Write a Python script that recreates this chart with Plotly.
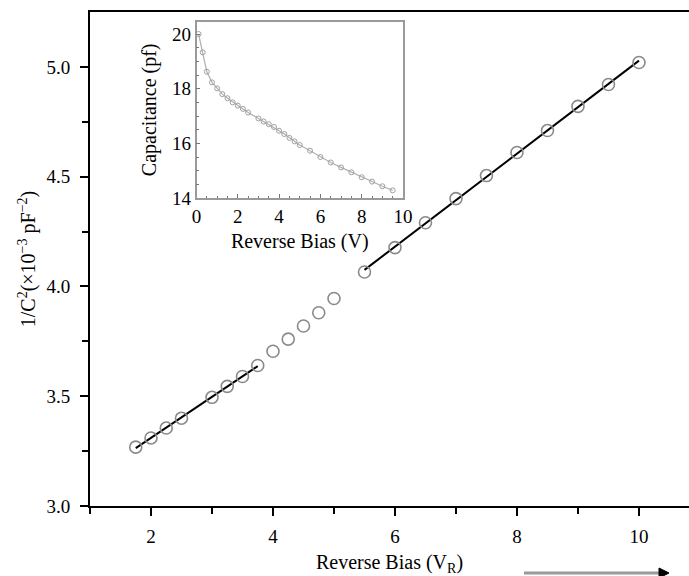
import numpy as np
import plotly.graph_objects as go

# Main plot data: 1/C^2 (x10^-3 pF^-2) vs reverse bias
x_main = [1.75, 2, 2.25, 2.5, 3, 3.25, 3.5, 3.75, 4, 4.25, 4.5, 4.75, 5,
          5.5, 6, 6.5, 7, 7.5, 8, 8.5, 9, 9.5, 10]
y_main = [3.268, 3.31, 3.355, 3.40, 3.495, 3.545, 3.59, 3.64, 3.705, 3.76, 3.82, 3.88, 3.945,
          4.066, 4.177, 4.29, 4.40, 4.505, 4.61, 4.71, 4.82, 4.92, 5.02]

# Inset data: capacitance (pf) vs reverse bias (V)
x_in = [0.1, 0.3, 0.5, 0.75, 1, 1.25, 1.5, 1.75, 2, 2.25, 2.5, 3, 3.25, 3.5, 3.75, 4,
        4.25, 4.5, 4.75, 5, 5.5, 6, 6.5, 7, 7.5, 8, 8.5, 9, 9.5]
y_in = [20.0, 19.33, 18.62, 18.23, 18.01, 17.8, 17.65, 17.5, 17.38, 17.26, 17.13, 16.91,
        16.8, 16.7, 16.6, 16.46, 16.34, 16.2, 16.07, 15.94, 15.73, 15.5, 15.3, 15.12,
        14.94, 14.76, 14.6, 14.43, 14.28]

# Tick labels
main_xticks = [2, 4, 6, 8, 10]
main_yticks = [3.0, 3.5, 4.0, 4.5, 5.0]
inset_xticks = [0, 2, 4, 6, 8, 10]
inset_yticks = [14, 16, 18, 20]

# Linear fit segments (ranges of bias)
fit_ranges = [(1.75, 3.75), (5.5, 10)]

FONT = "Liberation Serif"
fig = go.Figure()

xm = np.array(x_main)
ym = np.array(y_main)
for lo, hi in fit_ranges:
    sel = (xm >= lo) & (xm <= hi)
    k, b = np.polyfit(xm[sel], ym[sel], 1)
    xs = np.array([lo, hi])
    fig.add_trace(go.Scatter(x=xs, y=k * xs + b, mode="lines",
                             line=dict(color="black", width=2), showlegend=False,
                             xaxis="x", yaxis="y"))

fig.add_trace(go.Scatter(x=x_main, y=y_main, mode="markers",
                         marker=dict(symbol="circle-open", size=12, color="#8a8a8a",
                                     line=dict(width=1.6, color="#8a8a8a")),
                         showlegend=False, xaxis="x", yaxis="y"))

fig.add_trace(go.Scatter(x=x_in, y=y_in, mode="lines+markers",
                         line=dict(color="#b0b0b0", width=1.2),
                         marker=dict(symbol="circle-open", size=5, color="#a0a0a0",
                                     line=dict(width=1, color="#a0a0a0")),
                         showlegend=False, xaxis="x2", yaxis="y2"))

L, T, B = 90, 12, 70
W, H = 689, 576
pw, ph = W - L, H - T - B

def px(xp):
    return (xp - L) / pw

def py(yp):
    return (H - B - yp) / ph

fig.update_layout(
    width=W, height=H,
    margin=dict(l=L, r=0, t=T, b=B, autoexpand=False),
    paper_bgcolor="white", plot_bgcolor="white",
    font=dict(family=FONT, size=19, color="black"),
    xaxis=dict(domain=[0, 1], range=[1, 10.82], tickvals=main_xticks,
               ticks="outside", ticklen=8, tickwidth=2, tickcolor="black",
               ticklabelstandoff=4,
               minor=dict(tickvals=[1, 3, 5, 7, 9], ticks="outside", ticklen=6,
                          tickwidth=2, tickcolor="black"),
               showline=True, linecolor="black", linewidth=2, mirror=True,
               showgrid=False, zeroline=False, automargin=False,
               title=dict(text="Reverse Bias (V<sub>R</sub>)", font=dict(size=20), standoff=10)),
    yaxis=dict(domain=[0, 1], range=[3.0, 5.25], tickvals=main_yticks,
               tickformat=".1f",
               ticks="outside", ticklen=8, tickwidth=2, tickcolor="black",
               ticklabelstandoff=6,
               minor=dict(tickvals=[3.25, 3.75, 4.25, 4.75], ticks="outside", ticklen=6,
                          tickwidth=2, tickcolor="black"),
               showline=True, linecolor="black", linewidth=2,
               showgrid=False, zeroline=False, automargin=False,
               title=dict(text="1/C<sup>2</sup>(×10<sup>−3</sup> pF<sup>−2</sup>)",
                          font=dict(size=20), standoff=5)),
    xaxis2=dict(domain=[px(196.5), px(403)], anchor="y2", range=[0, 10],
                tickvals=inset_xticks,
                ticks="inside", ticklen=4, tickwidth=1.2, tickcolor="#777777",
                minor=dict(dtick=0.5, ticks="inside", ticklen=2.5, tickwidth=1,
                           tickcolor="#777777"),
                showline=True, linecolor="#9a9a9a", linewidth=1.5, mirror=True,
                showgrid=False, zeroline=False, automargin=False,
                title=dict(text="Reverse Bias (V)", font=dict(size=20), standoff=8)),
    yaxis2=dict(domain=[py(198), py(21.7)], anchor="x2", range=[14, 20.45],
                tickvals=inset_yticks,
                ticks="inside", ticklen=4, tickwidth=1.2, tickcolor="#777777",
                minor=dict(dtick=0.5, ticks="inside", ticklen=2.5, tickwidth=1,
                           tickcolor="#777777"),
                showline=True, linecolor="#9a9a9a", linewidth=1.5, mirror=True,
                showgrid=False, zeroline=False, automargin=False,
                title=dict(text="Capacitance (pf)", font=dict(size=20), standoff=10)),
    shapes=[
        dict(type="rect", xref="paper", yref="paper", x0=px(196.5), x1=px(403),
             y0=py(198), y1=py(21.7), fillcolor="white", line=dict(width=0), layer="below"),
        dict(type="line", xref="paper", yref="paper", x0=px(524), x1=px(661),
             y0=py(573), y1=py(573), line=dict(color="#9a9a9a", width=3)),
        dict(type="path", xref="paper", yref="paper",
             path=f"M {px(659)},{py(568)} L {px(669)},{py(573)} L {px(659)},{py(578)} Z",
             fillcolor="black", line=dict(color="black", width=1)),
    ],
)

fig.write_html("out.html", config={"displayModeBar": False},
               post_script="document.body.style.margin='0';document.body.style.overflow='hidden';")
